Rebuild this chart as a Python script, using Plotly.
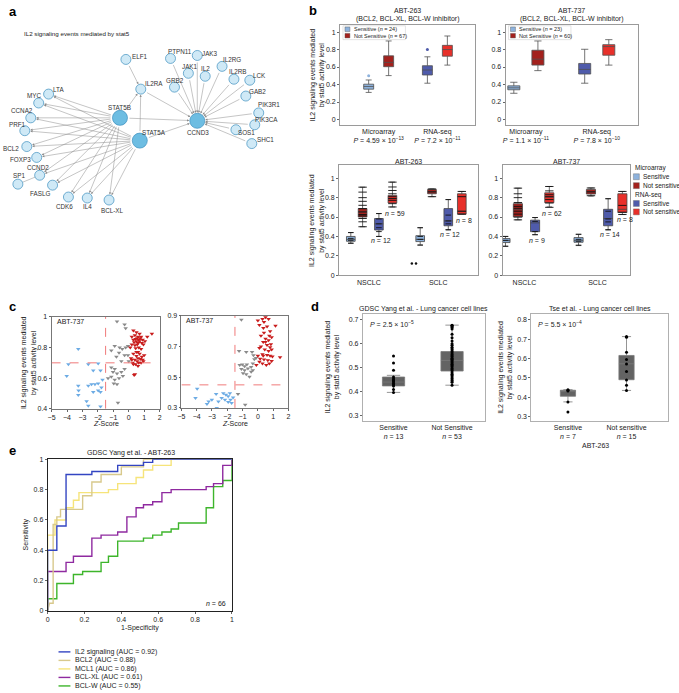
import plotly.graph_objects as go

W, H = 679, 693
FONT = "Liberation Sans, Arial, Helvetica, sans-serif"
TXT = "#222222"

# ====================== DATA ======================
# ---- a: network (node layout coordinates) ----
net_nodes = ["ELF1", "PTPN11", "JAK3", "JAK1", "IL2", "IL2RG", "IL2RB", "LCK", "GRB2", "GAB2",
             "PIK3R1", "PIK3CA", "SOS1", "SHC1", "IL2RA", "CCND3", "STAT5B", "STAT5A",
             "LTA", "MYC", "CCNA2", "PRF1", "BCL2", "FOXP3", "CCND2", "SP1", "FASLG", "CDK6", "IL4", "BCL-XL"]
net_x = [123, 168, 195, 186, 203, 220, 232, 248, 172, 244, 257, 253, 234, 250, 138, 195, 117, 137,
         45, 35, 27, 21, 23, 33, 36, 14, 49, 65, 84, 106]
net_y = [56, 55, 52, 70, 73, 63, 76, 77, 84, 93, 110, 122, 127, 141, 86, 118, 115, 138,
         91, 100, 115, 128, 144, 155, 173, 182, 183, 195, 196, 198]
net_hubs = ["STAT5B", "STAT5A", "CCND3"]
stat5_targets = ["LTA", "MYC", "CCNA2", "PRF1", "BCL2", "FOXP3", "CCND2", "FASLG", "CDK6", "IL4", "BCL-XL"]
ccnd3_inputs = ["PTPN11", "JAK3", "JAK1", "IL2", "IL2RG", "IL2RB", "LCK", "GRB2", "GAB2",
                "PIK3R1", "PIK3CA", "SOS1", "SHC1", "IL2RA", "STAT5B", "STAT5A"]
il2ra_inputs = ["ELF1", "STAT5B", "STAT5A"]
other_edges = [("SP1", "CCND2")]

# ---- b: box statistics [lower whisker, q1, median, q3, upper whisker] ----
# order: Microarray sensitive, Microarray not sensitive, RNA-seq sensitive, RNA-seq not sensitive
b_top_groups = ["Microarray", "RNA-seq"]
abt263_top = [[0.31, 0.347, 0.378, 0.404, 0.452], [0.502, 0.604, 0.653, 0.728, 0.898],
              [0.415, 0.509, 0.566, 0.615, 0.717], [0.622, 0.724, 0.80, 0.848, 0.955]]
abt263_top_outliers = [0.50, None, 0.80, None]
abt263_top_p = ["4.59 × 10<sup>−13</sup>", "7.2 × 10<sup>−11</sup>"]
abt263_top_n = [24, 67]
abt737_top = [[0.30, 0.34, 0.362, 0.385, 0.426], [0.559, 0.622, 0.69, 0.792, 0.898],
              [0.415, 0.52, 0.573, 0.641, 0.803], [0.622, 0.735, 0.834, 0.856, 0.913]]
abt737_top_outliers = [None, None, None, None]
abt737_top_p = ["1.1 × 10<sup>−11</sup>", "7.8 × 10<sup>−10</sup>"]
abt737_top_n = [23, 60]

b_bot_groups = ["NSCLC", "SCLC"]
abt263_nsclc = [[0.33, 0.35, 0.37, 0.40, 0.44], [0.50, 0.60, 0.653, 0.687, 0.908],
                [0.40, 0.466, 0.53, 0.585, 0.636], [0.704, 0.745, 0.79, 0.823, 0.96]]
abt263_sclc = [[0.313, 0.347, 0.37, 0.408, 0.49], [0.81, 0.84, 0.86, 0.884, 0.89],
               [0.466, 0.51, 0.56, 0.687, 0.78], [0.63, 0.63, 0.66, 0.84, 0.864]]
abt263_nsclc_pts = [[0.44, 0.38, 0.36, 0.33],
                    [0.908, 0.857, 0.80, 0.762, 0.721, 0.687, 0.653, 0.626, 0.612, 0.585, 0.551, 0.50],
                    [0.636, 0.58, 0.53, 0.49, 0.45, 0.40],
                    [0.96, 0.91, 0.874, 0.84, 0.81, 0.79, 0.772, 0.738, 0.704]]
abt263_sclc_pts = [[0.49, 0.40, 0.37, 0.31],
                   [0.89, 0.86, 0.81],
                   [0.78, 0.62, 0.56, 0.53, 0.47],
                   [0.864, 0.81, 0.66, 0.63]]
abt263_sclc_low = [0.12, 0.12]
abt263_bot_n = [12, 59, 12, 8]
abt263_bot_n_y = [0.357, 0.636, 0.425, 0.56]

abt737_nsclc = [[0.296, 0.337, 0.357, 0.378, 0.40], [0.571, 0.602, 0.676, 0.738, 0.898],
                [0.418, 0.449, 0.54, 0.568, 0.595], [0.704, 0.748, 0.806, 0.85, 0.915]]
abt737_sclc = [[0.306, 0.34, 0.36, 0.388, 0.422], [0.816, 0.837, 0.86, 0.885, 0.90],
               [0.466, 0.51, 0.585, 0.68, 0.789], [0.626, 0.646, 0.68, 0.84, 0.864]]
abt737_nsclc_pts = [[0.40, 0.36, 0.30],
                    [0.898, 0.84, 0.80, 0.75, 0.71, 0.69, 0.66, 0.63, 0.60, 0.571],
                    [0.595, 0.555, 0.45, 0.418],
                    [0.915, 0.87, 0.83, 0.81, 0.78, 0.745, 0.70]]
abt737_sclc_pts = [[0.422, 0.37, 0.35, 0.31],
                   [0.90, 0.86, 0.82],
                   [0.789, 0.66, 0.58, 0.55, 0.47],
                   [0.864, 0.72, 0.65, 0.626]]
abt737_bot_n = [9, 62, 14, 8]
abt737_bot_n_y = [0.357, 0.636, 0.418, 0.575]

# ---- c: z-score scatter (ABT-737) ----
c1_blue_x = [-3.27, -3.91, -2.62, -1.98, -4.02, -2.3, -1.83, -1.70, -1.98, -2.19, -2.41, -2.62, -3.27,
             -1.77, -1.98, -3.27, -2.3, -1.83, -2.73, -2.62, -1.83, -3.25]
c1_blue_y = [0.79, 0.69, 0.69, 0.695, 0.615, 0.65, 0.65, 0.59, 0.565, 0.56, 0.56, 0.55, 0.55,
             0.54, 0.52, 0.49, 0.51, 0.51, 0.45, 0.42, 0.415, 0.52]
c1_gray_x = [-0.76, -0.27, -0.20, -1.13, -0.91, -0.59, -0.42, -0.20, -0.05, -0.63, -0.27, -0.80, -0.05,
             -0.48, 0.0, -1.13, -0.91, -1.02, -0.76, -0.48, -0.27, -1.13, -0.91, -0.63, -0.38, -0.97,
             -0.76, -1.34, -0.70]
c1_gray_y = [0.97, 0.95, 0.925, 0.78, 0.81, 0.80, 0.79, 0.80, 0.81, 0.765, 0.75, 0.74, 0.75,
             0.71, 0.71, 0.67, 0.66, 0.64, 0.63, 0.64, 0.66, 0.61, 0.59, 0.60, 0.615, 0.565,
             0.56, 0.60, 0.44]
c1_red_x = [0.3, 0.5, 0.7, 1.5, 1.2, 0.2, 0.4, 0.6, 0.8, 0.3, 0.45, 0.55, 0.65, 0.75, 0.9, 0.35, 0.5,
            0.6, 0.7, 0.85, 0.2, 0.4, 0.55, 0.95, 1.05, 0.65, 0.45, 0.1, 0.8, 0.6, 0.3, 0.7, 0.5,
            0.85, 0.6, 0.75, 0.4, 0.55, 0.9, 0.2, 0.65, 0.45, 0.3, 0.8, 0.95, 0.6, 0.35, 0.4, 0.15,
            1.0, 0.25, 0.5]
c1_red_y = [0.91, 0.90, 0.89, 0.89, 0.87, 0.87, 0.88, 0.87, 0.87, 0.85, 0.855, 0.86, 0.85, 0.86, 0.85,
            0.835, 0.84, 0.83, 0.84, 0.83, 0.82, 0.815, 0.82, 0.82, 0.84, 0.80, 0.795, 0.80, 0.79,
            0.77, 0.76, 0.76, 0.745, 0.74, 0.73, 0.725, 0.72, 0.71, 0.72, 0.72, 0.70, 0.69, 0.69,
            0.70, 0.71, 0.68, 0.62, 0.625, 0.73, 0.75, 0.70, 0.77]
c2_blue_x = [-3.97, -4.08, -3.22, -3.33, -2.73, -2.58, -2.69, -2.26, -2.09, -1.94, -1.83, -2.15,
             -1.94, -1.79, -1.72, -1.62, -2.37, -3.01]
c2_blue_y = [0.424, 0.364, 0.342, 0.326, 0.39, 0.342, 0.30, 0.396, 0.386, 0.375, 0.396, 0.353,
             0.338, 0.353, 0.332, 0.368, 0.364, 0.353]
c2_gray_x = [-1.08, -1.23, -0.83, -1.30, -1.19, -1.02, -0.87, -0.72, -1.08, -0.87, -0.65, -0.44,
             -0.97, -0.76, -0.55, -0.33, -0.23, -0.38, -0.12, -0.29, -0.76, -0.44, -0.33]
c2_gray_y = [0.874, 0.67, 0.32, 0.39, 0.58, 0.583, 0.572, 0.583, 0.553, 0.546, 0.557, 0.567,
             0.525, 0.519, 0.503, 0.589, 0.617, 0.664, 0.625, 0.643, 0.664, 0.535, 0.546]
c2_red_x = [0.0, 0.3, 0.5, 0.7, 0.1, 0.36, 0.6, 1.15, 0.8, 0.4, 0.2, 0.5, 0.7, 0.35, 0.6, 0.85, 0.1,
            0.45, 0.7, 0.9, 0.3, 0.6, 0.8, 0.95, 0.0, 0.15, 0.4, 0.65, 0.9, 1.45, 0.3, 0.55, 0.75,
            0.1, 0.5, 0.2, 0.75, 0.9, 0.4, -0.1, 0.8, 0.35]
c2_red_y = [0.87, 0.88, 0.89, 0.88, 0.84, 0.82, 0.83, 0.835, 0.80, 0.79, 0.77, 0.75, 0.74, 0.73,
            0.71, 0.715, 0.69, 0.68, 0.67, 0.68, 0.65, 0.645, 0.64, 0.635, 0.64, 0.62, 0.615, 0.61,
            0.605, 0.63, 0.59, 0.58, 0.59, 0.60, 0.73, 0.70, 0.77, 0.76, 0.86, 0.58, 0.695, 0.64]
c_z_cut = -1.5
c1_y_cut = 0.70
c2_y_cut = 0.45

# ---- d: lung cancer cell lines (ABT-263) ----
d_groups = ["Sensitive", "Not Sensitive"]
d_gdsc_n = [13, 53]
d_gdsc_boxes = [[0.398, 0.425, 0.441, 0.462, 0.469], [0.428, 0.487, 0.531, 0.568, 0.678]]
d_gdsc_sens_pts = [0.549, 0.52, 0.49, 0.462, 0.455, 0.45, 0.445, 0.441, 0.435, 0.43, 0.425, 0.41, 0.398]
d_gdsc_not_pts = [0.678, 0.676, 0.672, 0.668, 0.662, 0.64, 0.625, 0.612, 0.60, 0.594, 0.586, 0.58, 0.574,
                  0.568, 0.562, 0.556, 0.551, 0.546, 0.54, 0.536, 0.531, 0.526, 0.52, 0.515, 0.51,
                  0.505, 0.498, 0.492, 0.487, 0.48, 0.474, 0.468, 0.462, 0.456, 0.45, 0.445, 0.44, 0.428]
d_gdsc_p = "2.5 × 10<sup>−5</sup>"
d_tse_groups = ["Sensitive", "Not sensitive"]
d_tse_n = [7, 15]
d_tse_boxes = [[0.377, 0.406, 0.433, 0.437, 0.44], [0.436, 0.491, 0.573, 0.616, 0.713]]
d_tse_sens_pts = [0.44, 0.437, 0.433, 0.377, 0.325]
d_tse_not_pts = [0.713, 0.709, 0.633, 0.595, 0.572, 0.534, 0.49, 0.462, 0.436]
d_tse_p = "5.5 × 10<sup>−4</sup>"

# ---- e: ROC curves (GDSC Yang et al. - ABT-263) ----
roc_names = ["IL2 signaling (AUC = 0.92)", "BCL2 (AUC = 0.88)", "MCL1 (AUC = 0.86)",
             "BCL-XL (AUC = 0.61)", "BCL-W (AUC = 0.55)"]
roc_il2_x = [0, 0, 0.05, 0.05, 0.10, 0.10, 0.24, 0.24, 0.38, 0.38, 0.52, 0.52, 0.57, 0.57, 1]
roc_il2_y = [0, 0.40, 0.40, 0.56, 0.56, 0.90, 0.90, 0.92, 0.92, 0.96, 0.96, 0.98, 0.98, 1, 1]
roc_bcl2_x = [0, 0.01, 0.03, 0.03, 0.05, 0.05, 0.07, 0.07, 0.19, 0.19, 0.24, 0.24, 0.29, 0.29, 0.40,
              0.40, 0.52, 0.52, 1]
roc_bcl2_y = [0, 0.05, 0.05, 0.57, 0.57, 0.62, 0.62, 0.67, 0.67, 0.76, 0.76, 0.85, 0.85, 0.90, 0.90,
              0.95, 0.95, 1, 1]
roc_mcl1_x = [0, 0, 0.04, 0.04, 0.10, 0.10, 0.14, 0.14, 0.17, 0.17, 0.33, 0.33, 0.38, 0.38, 0.48,
              0.48, 0.52, 0.52, 0.57, 0.57, 0.67, 0.67, 1]
roc_mcl1_y = [0, 0.50, 0.50, 0.60, 0.60, 0.68, 0.68, 0.73, 0.73, 0.78, 0.78, 0.80, 0.80, 0.84, 0.84,
              0.88, 0.88, 0.93, 0.93, 0.96, 0.96, 1, 1]
roc_bclxl_x = [0, 0, 0.10, 0.10, 0.14, 0.14, 0.24, 0.24, 0.29, 0.29, 0.38, 0.38, 0.43, 0.43, 0.48,
               0.48, 0.52, 0.52, 0.57, 0.57, 0.62, 0.62, 0.67, 0.67, 0.86, 0.86, 0.90, 0.90, 0.95,
               0.95, 1, 1]
roc_bclxl_y = [0, 0.26, 0.26, 0.32, 0.32, 0.36, 0.36, 0.48, 0.48, 0.50, 0.50, 0.52, 0.52, 0.62, 0.62,
               0.68, 0.68, 0.70, 0.70, 0.72, 0.72, 0.78, 0.78, 0.80, 0.80, 0.82, 0.82, 0.84, 0.84,
               0.96, 0.96, 1]
roc_bclw_x = [0, 0, 0.05, 0.05, 0.14, 0.14, 0.19, 0.19, 0.29, 0.29, 0.33, 0.33, 0.38, 0.38, 0.52,
              0.52, 0.57, 0.57, 0.62, 0.62, 0.67, 0.67, 0.71, 0.71, 0.86, 0.86, 0.90, 0.90, 0.95,
              0.95, 1, 1]
roc_bclw_y = [0, 0.08, 0.08, 0.18, 0.18, 0.24, 0.24, 0.26, 0.26, 0.32, 0.32, 0.36, 0.36, 0.46, 0.46,
              0.48, 0.48, 0.50, 0.50, 0.52, 0.52, 0.54, 0.54, 0.58, 0.58, 0.68, 0.68, 0.82, 0.82,
              0.86, 0.86, 1]
roc_n = 66

# ====================== STYLES ======================
C_MS, C_MN, C_RS, C_RN = "#8db2dd", "#a3211d", "#4f5bab", "#e8302a"
BOX_COLORS = [C_MS, C_MN, C_RS, C_RN]
C_BLUE, C_GRAY, C_RED = "#6cabe4", "#8a8a8a", "#c81c1c"
ROC_COLORS = ["#3345c2", "#d8c98c", "#f6e47a", "#8f2aa0", "#3db52b"]
NODE_FILL, HUB_FILL, NODE_LINE = "#cfe9f6", "#6dbde2", "#3d8fbe"

# label offsets (pixels, right / down) of each node name relative to its node
label_off = {"ELF1": (14, -3), "PTPN11": (9, -7), "JAK3": (13, -2), "JAK1": (2, -7), "IL2": (0, -8),
             "IL2RG": (10, -7), "IL2RB": (4, -8), "LCK": (10, -5), "GRB2": (1, -7), "GAB2": (12, -5),
             "PIK3R1": (10, -8), "PIK3CA": (12, -5), "SOS1": (11, 3), "SHC1": (14, -4), "IL2RA": (13, -6),
             "CCND3": (1, 12), "STAT5B": (0, -10), "STAT5A": (14, -8), "LTA": (10, -5), "MYC": (-5, -7),
             "CCNA2": (-9, -7), "PRF1": (-7, -6), "BCL2": (-16, 2), "FOXP3": (-16, 2), "CCND2": (-2, -8),
             "SP1": (1, -9), "FASLG": (-13, 8), "CDK6": (-4, 9), "IL4": (0, 8), "BCL-XL": (3, 10)}


def dom_x(x0, x1):
    return [x0 / W, x1 / W]


def dom_y(y0, y1):
    return [1 - y1 / H, 1 - y0 / H]


def px(x, y):
    return x / W, 1 - y / H


fig = go.Figure()
annotations = []
shapes = []


def text(t, x, y, size=7, xanchor="center", yanchor="middle", angle=0, color=TXT, ref=("paper", "paper"),
         xshift=0, yshift=0):
    if ref == ("paper", "paper"):
        x, y = px(x, y)
    annotations.append(dict(text=t, x=x, y=y, xref=ref[0], yref=ref[1], showarrow=False,
                            xanchor=xanchor, yanchor=yanchor, textangle=angle, xshift=xshift, yshift=yshift,
                            font=dict(size=size, color=color, family=FONT)))


def frame_axis(dom, rng, color="#9a9a9a", **kw):
    d = dict(domain=dom, range=rng, showline=True, mirror=True, linecolor=color, linewidth=0.8,
             showgrid=False, zeroline=False, ticks="outside", ticklen=2, tickwidth=0.6,
             tickcolor="#666", tickfont=dict(size=7, color=TXT, family=FONT), fixedrange=True)
    d.update(kw)
    return d


layout_axes = {}

# ====================== a: network ======================
layout_axes["xaxis"] = dict(domain=dom_x(0, 300), range=[0, 300], visible=False, fixedrange=True)
layout_axes["yaxis"] = dict(domain=dom_y(0, 240), range=[240, 0], visible=False, fixedrange=True)
pos = {n: (x, y) for n, x, y in zip(net_nodes, net_x, net_y)}
edges = [(s, t) for s in ["STAT5B", "STAT5A"] for t in stat5_targets]
edges += [(s, "IL2RA") for s in il2ra_inputs]
edges += [(s, "CCND3") for s in ccnd3_inputs]
for s, t in edges:
    rs = 8 if s in net_hubs else 5.5
    rt = 8 if t in net_hubs else 5.5
    annotations.append(dict(x=pos[t][0], y=pos[t][1], ax=pos[s][0], ay=pos[s][1], xref="x", yref="y",
                            axref="x", ayref="y", showarrow=True, arrowhead=2, arrowsize=0.9,
                            arrowwidth=0.5, arrowcolor="#8a8a8a", standoff=rt, startstandoff=rs, text=""))
for s, t in other_edges:
    fig.add_trace(go.Scatter(x=[pos[s][0], pos[t][0]], y=[pos[s][1], pos[t][1]], mode="lines",
                             line=dict(color="#8a8a8a", width=0.5), hoverinfo="skip", showlegend=False))
small = [n for n in net_nodes if n not in net_hubs]
fig.add_trace(go.Scatter(x=[pos[n][0] for n in small], y=[pos[n][1] for n in small], mode="markers",
                         marker=dict(size=10, color=NODE_FILL, line=dict(color=NODE_LINE, width=0.7)),
                         showlegend=False, hovertext=small, hoverinfo="text"))
fig.add_trace(go.Scatter(x=[pos[n][0] for n in net_hubs], y=[pos[n][1] for n in net_hubs], mode="markers",
                         marker=dict(size=15, color=HUB_FILL, line=dict(color=NODE_LINE, width=0.7)),
                         showlegend=False, hovertext=net_hubs, hoverinfo="text"))
for n in net_nodes:
    dxl, dyl = label_off[n]
    text(n, pos[n][0], pos[n][1], size=6.3, color="#333", ref=("x", "y"), xshift=dxl, yshift=-dyl)
text("IL2 signaling events mediated by stat5", 18, 30, size=6.2, xanchor="left")


# ====================== b ======================
def add_box(xa, ya, xpos, st, color, width, line="#505050"):
    fig.add_trace(go.Box(x=[xpos], lowerfence=[st[0]], q1=[st[1]], median=[st[2]], q3=[st[3]],
                         upperfence=[st[4]], width=width, fillcolor=color,
                         line=dict(color=line, width=0.8), whiskerwidth=0.6, boxpoints=False,
                         xaxis=xa, yaxis=ya, showlegend=False, hoverinfo="skip"))


TOP_OFF = [-0.17, 0.17]
ylab_b = "IL2 signaling events mediated<br>by stat5 activity level"


def top_panel(idx, x0, x1, xr, data, outl, pvals, ns, title):
    xa, ya = f"x{idx}", f"y{idx}"
    layout_axes[f"xaxis{idx}"] = frame_axis(dom_x(x0, x1), xr, tickvals=[0, 1], ticks="",
                                            ticktext=[f"{g}<br><i>P</i> = {p}" for g, p in zip(b_top_groups, pvals)])
    layout_axes[f"yaxis{idx}"] = frame_axis(dom_y(21, 122), [-0.06, 1.083], tickvals=[0, 0.2, 0.4, 0.6, 0.8, 1],
                                            anchor=xa)
    layout_axes[f"xaxis{idx}"]["anchor"] = ya
    for k, st in enumerate(data):
        g, s = k // 2, k % 2
        xpos = g + TOP_OFF[s]
        add_box(xa, ya, xpos, st, BOX_COLORS[k], 0.17)
        if outl[k] is not None:
            fig.add_trace(go.Scatter(x=[xpos], y=[outl[k]], mode="markers", xaxis=xa, yaxis=ya,
                                     marker=dict(size=3, color=BOX_COLORS[k]), showlegend=False))
    cx = (x0 + x1) / 2
    text(title, cx, 7, size=7)
    text("(BCL2, BCL-XL, BCL-W inhibitor)", cx, 15.5, size=7)
    shapes.append(dict(type="rect", xref="paper", yref="paper", x0=(x0 + 3) / W, x1=(x0 + 66) / W,
                       y0=1 - 36 / H, y1=1 - 22 / H, line=dict(color="#c8c8c8", width=0.5)))
    for r, (lab, n, col) in enumerate(zip(["Sensitive", "Not Sensitive"], ns, [C_MS, C_MN])):
        yy = 25.5 + r * 6.5
        shapes.append(dict(type="rect", xref="paper", yref="paper", x0=(x0 + 5) / W, x1=(x0 + 10) / W,
                           y0=1 - (yy + 2.3) / H, y1=1 - (yy - 2.3) / H, fillcolor=col,
                           line=dict(color="#555", width=0.4)))
        text(f"{lab} (<i>n</i> = {n})", x0 + 12, yy, size=5.5, xanchor="left")


top_panel(2, 339, 475, [-0.658, 1.637], abt263_top, abt263_top_outliers, abt263_top_p, abt263_top_n, "ABT-263")
top_panel(3, 506, 640, [-0.287, 1.587], abt737_top, abt737_top_outliers, abt737_top_p, abt737_top_n, "ABT-737")
text(ylab_b, 316, 72, size=7, angle=-90)

BOT_OFF = [-0.26, -0.09, 0.145, 0.34]


def bot_panel(idx, x0, x1, xr, nsclc, sclc, npts, spts, nlab, nly, title):
    xa, ya = f"x{idx}", f"y{idx}"
    layout_axes[f"xaxis{idx}"] = frame_axis(dom_x(x0, x1), xr, tickvals=[0, 1], ticktext=b_bot_groups,
                                            ticks="", anchor=ya)
    layout_axes[f"yaxis{idx}"] = frame_axis(dom_y(163, 274), [0, 1.133], tickvals=[0, 0.2, 0.4, 0.6, 0.8, 1],
                                            anchor=xa)
    for g, (grp, pts) in enumerate([(nsclc, npts), (sclc, spts)]):
        for k, st in enumerate(grp):
            xpos = g + BOT_OFF[k]
            add_box(xa, ya, xpos, st, BOX_COLORS[k], 0.125, line="#454545")
            fig.add_trace(go.Scatter(x=[xpos] * len(pts[k]), y=pts[k], mode="markers", xaxis=xa, yaxis=ya,
                                     marker=dict(symbol="line-ew", size=6 if k % 2 else 4,
                                                 line=dict(color="#111", width=0.9)),
                                     showlegend=False, hoverinfo="skip"))
    for j, (n, yv) in enumerate(zip(nlab, nly)):
        g, k = j // 2, 2 + j % 2
        text(f"<i>n</i> = {n}", g + BOT_OFF[k] + 0.03, yv, size=7, ref=(xa, ya))
    text(title, (x0 + x1) / 2, 159, size=7)


bot_panel(4, 338, 478, [-0.43, 1.57], abt263_nsclc, abt263_sclc, abt263_nsclc_pts, abt263_sclc_pts,
          abt263_bot_n, abt263_bot_n_y, "ABT-263")
fig.add_trace(go.Scatter(x=[1 + BOT_OFF[0] - 0.12, 1 + BOT_OFF[0] - 0.06], y=abt263_sclc_low, mode="markers",
                         xaxis="x4", yaxis="y4", marker=dict(size=2.5, color="#111"), showlegend=False))
bot_panel(5, 503, 632, [-0.30, 1.45], abt737_nsclc, abt737_sclc, abt737_nsclc_pts, abt737_sclc_pts,
          abt737_bot_n, abt737_bot_n_y, "ABT-737")
text(ylab_b, 316, 219, size=7, angle=-90)

# legend for lower b
text("Microarray", 635, 165.5, size=6.5, xanchor="left")
text("RNA-seq", 635, 193, size=6.5, xanchor="left")
for (lab, col, yy) in [("Sensitive", C_MS, 174.5), ("Not sensitive", C_MN, 183.5),
                       ("Sensitive", C_RS, 201.5), ("Not sensitive", C_RN, 210)]:
    shapes.append(dict(type="rect", xref="paper", yref="paper", x0=635 / W, x1=641 / W,
                       y0=1 - (yy + 3) / H, y1=1 - (yy - 3) / H, fillcolor=col, line=dict(color="#666", width=0.4)))
    text(lab, 642.5, yy, size=6.5, xanchor="left")


# ====================== c ======================
def c_panel(idx, x0, x1, y0, y1, yr, yt, bx, by, gx, gy, rx, ry, ycut):
    xa, ya = f"x{idx}", f"y{idx}"
    layout_axes[f"xaxis{idx}"] = frame_axis(dom_x(x0, x1), [-5, 2], tickvals=list(range(-5, 3)), anchor=ya,
                                            linecolor="#777")
    layout_axes[f"yaxis{idx}"] = frame_axis(dom_y(y0, y1), yr, tickvals=yt, anchor=xa, linecolor="#777")
    for xs, ys, col in [(gx, gy, C_GRAY), (bx, by, C_BLUE), (rx, ry, C_RED)]:
        fig.add_trace(go.Scatter(x=xs, y=ys, mode="markers", xaxis=xa, yaxis=ya, showlegend=False,
                                 marker=dict(symbol="triangle-down", size=4, color=col)))
    shapes.append(dict(type="line", xref=xa, yref=ya, x0=c_z_cut, x1=c_z_cut, y0=yr[0], y1=yr[1],
                       line=dict(color="#f07a7a", width=1, dash="dash")))
    shapes.append(dict(type="line", xref=xa, yref=ya, x0=-5, x1=2, y0=ycut, y1=ycut,
                       line=dict(color="#f07a7a", width=1, dash="dash")))
    text("ABT-737", x0 + 3, y0 + 5, size=7, xanchor="left")
    text("<i>Z</i>-Score", (x0 + x1) / 2, 424, size=7)


c_panel(6, 48, 157, 316, 409, [0.4, 1.0], [0.4, 0.6, 0.8, 1], c1_blue_x, c1_blue_y, c1_gray_x, c1_gray_y,
        c1_red_x, c1_red_y, c1_y_cut)
c_panel(7, 179, 287, 315, 408, [0.3, 0.9], [0.3, 0.5, 0.7, 0.9], c2_blue_x, c2_blue_y, c2_gray_x, c2_gray_y,
        c2_red_x, c2_red_y, c2_y_cut)
text(ylab_b, 25, 362, size=7, angle=-90)


# ====================== d ======================
def d_panel(idx, x0, x1, xr, yr, yt, boxes, sp, nsp, groups, ns, width, title, pv):
    xa, ya = f"x{idx}", f"y{idx}"
    layout_axes[f"xaxis{idx}"] = frame_axis(dom_x(x0, x1), xr, tickvals=[0, 1], ticks="", anchor=ya,
                                            ticktext=[f"{g}<br><i>n</i> = {n}" for g, n in zip(groups, ns)],
                                            linecolor="#b0b0b0")
    layout_axes[f"yaxis{idx}"] = frame_axis(dom_y(313, 421), yr, tickvals=yt, anchor=xa, linecolor="#b0b0b0")
    for k, st in enumerate(boxes):
        add_box(xa, ya, k, st, "#636363", width, line="#7a7a7a")
    for k, pts in enumerate([sp, nsp]):
        fig.add_trace(go.Scatter(x=[k] * len(pts), y=pts, mode="markers", xaxis=xa, yaxis=ya,
                                 marker=dict(size=3, color="#000"), showlegend=False, hoverinfo="skip"))
    text(title, (x0 + x1) / 2, 308, size=7)
    text(f"<i>P</i> = {pv}", x0 + 5, 323, size=7, xanchor="left")


d_panel(8, 362, 485, [-0.525, 1.558], [0.28, 0.725], [0.3, 0.4, 0.5, 0.6, 0.7], d_gdsc_boxes,
        d_gdsc_sens_pts, d_gdsc_not_pts, d_groups, d_gdsc_n, 0.38, "GDSC Yang et al. - Lung cancer cell lines",
        d_gdsc_p)
d_panel(9, 532, 670, [-0.626, 1.71], [0.28, 0.83], [0.3, 0.4, 0.5, 0.6, 0.7, 0.8], d_tse_boxes,
        d_tse_sens_pts, d_tse_not_pts, d_tse_groups, d_tse_n, 0.26, "Tse et al. - Lung cancer cell lines",
        d_tse_p)
text(ylab_b, 331, 367, size=7, angle=-90)
text(ylab_b, 506, 367, size=7, angle=-90)
text("ABT-263", 597, 446, size=7)

# ====================== e ======================
layout_axes["xaxis10"] = frame_axis(dom_x(44, 230), [0, 1], tickvals=[0, 0.2, 0.4, 0.6, 0.8, 1], anchor="y10",
                                    linecolor="#222")
layout_axes["yaxis10"] = frame_axis(dom_y(460, 613), [0, 1], tickvals=[0, 0.2, 0.4, 0.6, 0.8, 1], anchor="x10",
                                    linecolor="#222")
roc_xs = [roc_il2_x, roc_bcl2_x, roc_mcl1_x, roc_bclxl_x, roc_bclw_x]
roc_ys = [roc_il2_y, roc_bcl2_y, roc_mcl1_y, roc_bclxl_y, roc_bclw_y]
for i in [4, 3, 2, 1, 0]:
    fig.add_trace(go.Scatter(x=roc_xs[i], y=roc_ys[i], mode="lines", xaxis="x10", yaxis="y10",
                             line=dict(color=ROC_COLORS[i], width=1.4), name=roc_names[i],
                             showlegend=False, cliponaxis=False))
text("GDSC Yang et al. - ABT-263", 128, 454, size=7)
text("Sensitivity", 22, 536, size=7, angle=-90)
text("1-Specificity", 137, 630, size=7)
text(f"<i>n</i> = {roc_n}", 226, 606, size=7, xanchor="right")
for i, name in enumerate(roc_names):
    yy = 654.5 + i * 8.6
    shapes.append(dict(type="line", xref="paper", yref="paper", x0=55 / W, x1=67 / W, y0=1 - yy / H,
                       y1=1 - yy / H, line=dict(color=ROC_COLORS[i], width=1.4)))
    text(name, 70, yy, size=7, xanchor="left")

# ====================== panel letters ======================
for letter, x, y in [("a", 3, 8), ("b", 306, 7), ("c", 3, 306), ("d", 308, 306), ("e", 3, 451)]:
    text(f"<b>{letter}</b>", x, y, size=13, xanchor="left", color="#000")

fig.update_layout(width=W, height=H, margin=dict(l=0, r=0, t=0, b=0), paper_bgcolor="white",
                  plot_bgcolor="white", showlegend=False, boxmode="overlay",
                  font=dict(family=FONT, size=7, color=TXT),
                  annotations=annotations, shapes=shapes, **layout_axes)
fig.write_html("out.html", config={"displayModeBar": False},
               post_script="document.body.style.margin='0';document.body.style.padding='0';")
